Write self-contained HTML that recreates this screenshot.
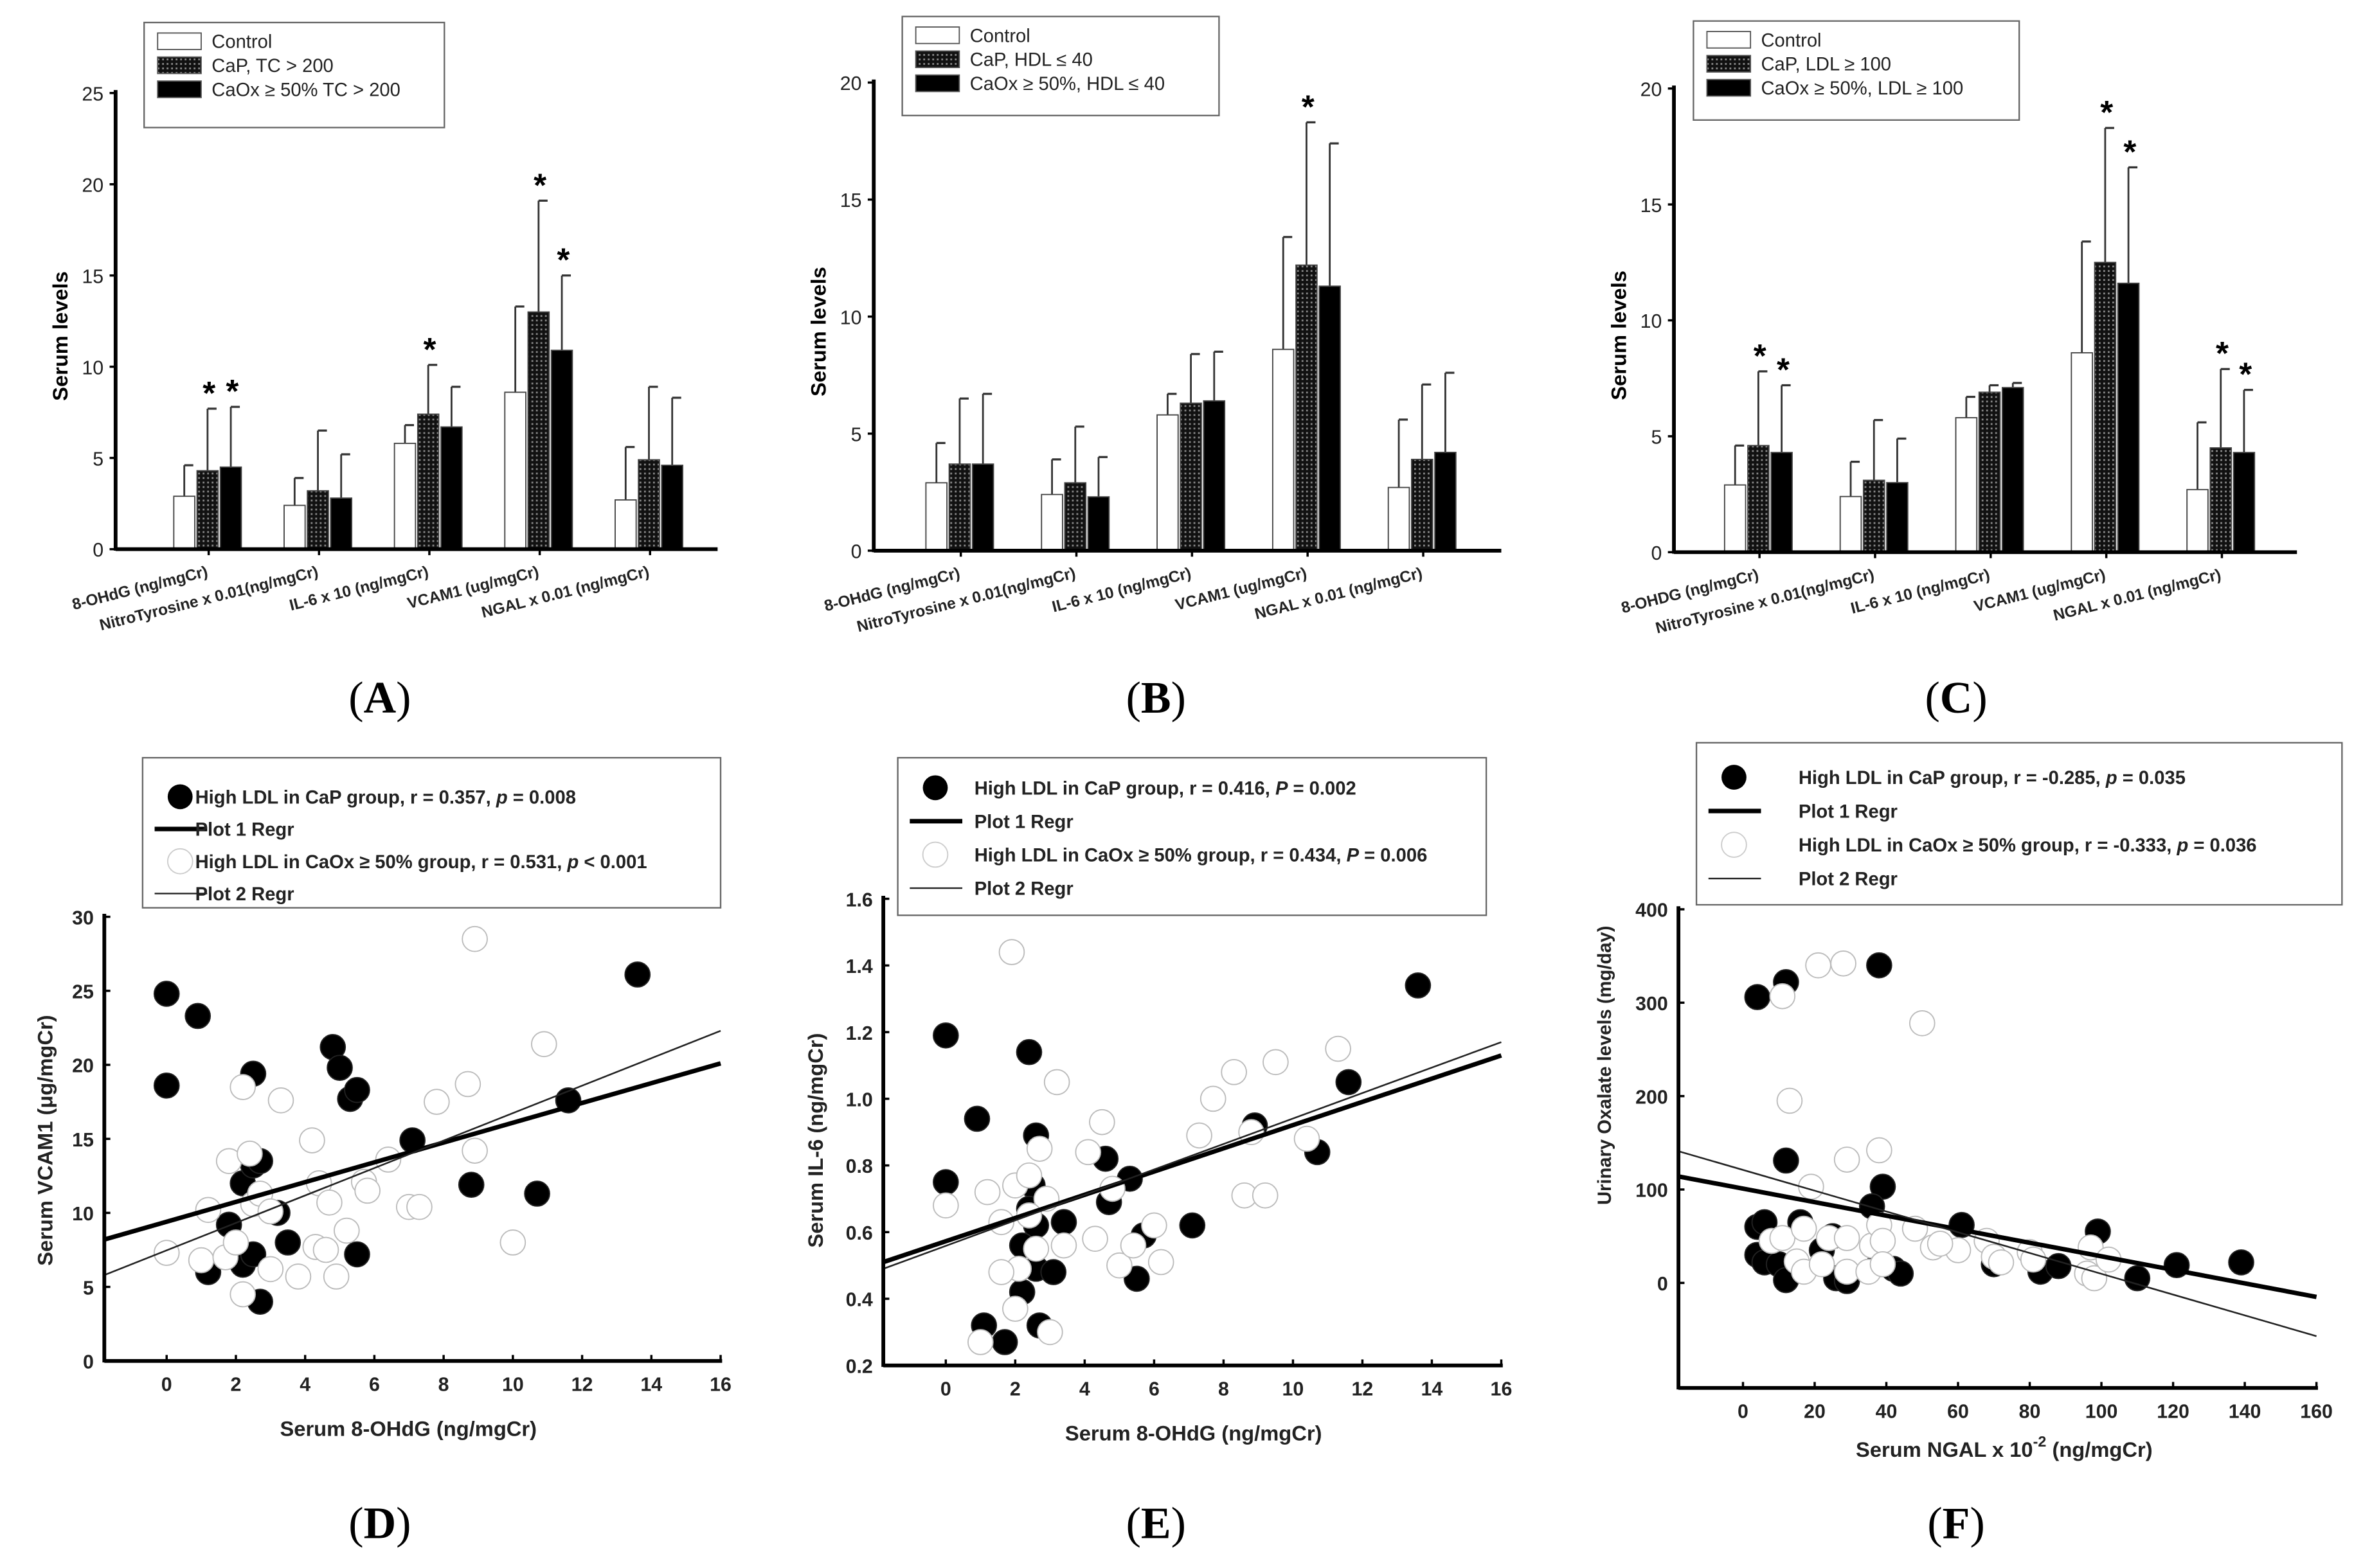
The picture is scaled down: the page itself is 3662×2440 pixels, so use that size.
<!DOCTYPE html>
<html><head><meta charset="utf-8"><style>
html,body{margin:0;padding:0;background:#fff;}
svg{display:block;}
text{font-family:"Liberation Sans",sans-serif;}
text.serif{font-family:"Liberation Serif",serif;}
</style></head><body>
<svg id="fig" width="3662" height="2440" viewBox="0 0 1568 1045" preserveAspectRatio="none" xmlns="http://www.w3.org/2000/svg">
<defs>
<pattern id="dots" width="3" height="3" patternUnits="userSpaceOnUse">
<rect width="3" height="3" fill="#111"/><rect x="0" y="0" width="1.2" height="1.2" fill="#888"/>
</pattern>
</defs>
</svg>
<script>
// ---------- DATA ----------
const barCategories = ["8-OHdG (ng/mgCr)","NitroTyrosine x 0.01(ng/mgCr)","IL-6 x 10 (ng/mgCr)","VCAM1 (ug/mgCr)","NGAL x 0.01 (ng/mgCr)"];
const barCategoriesC = ["8-OHDG (ng/mgCr)","NitroTyrosine x 0.01(ng/mgCr)","IL-6 x 10 (ng/mgCr)","VCAM1 (ug/mgCr)","NGAL x 0.01 (ng/mgCr)"];
const aControl = [2.9,2.4,5.8,8.6,2.7];
const aControlErr = [4.6,3.9,6.8,13.3,5.6];
const aCaP = [4.3,3.2,7.4,13.0,4.9];
const aCaPErr = [7.7,6.5,10.1,19.1,8.9];
const aCaOx = [4.5,2.8,6.7,10.9,4.6];
const aCaOxErr = [7.8,5.2,8.9,15.0,8.3];
const aStarsCaP = [1,0,1,1,0];
const aStarsCaOx = [1,0,0,1,0];
const aTicks = [0,5,10,15,20,25];

const bControl = [2.9,2.4,5.8,8.6,2.7];
const bControlErr = [4.6,3.9,6.7,13.4,5.6];
const bCaP = [3.7,2.9,6.3,12.2,3.9];
const bCaPErr = [6.5,5.3,8.4,18.3,7.1];
const bCaOx = [3.7,2.3,6.4,11.3,4.2];
const bCaOxErr = [6.7,4.0,8.5,17.4,7.6];
const bStarsCaP = [0,0,0,1,0];
const bStarsCaOx = [0,0,0,0,0];
const bTicks = [0,5,10,15,20];

const cControl = [2.9,2.4,5.8,8.6,2.7];
const cControlErr = [4.6,3.9,6.7,13.4,5.6];
const cCaP = [4.6,3.1,6.9,12.5,4.5];
const cCaPErr = [7.8,5.7,7.2,18.3,7.9];
const cCaOx = [4.3,3.0,7.1,11.6,4.3];
const cCaOxErr = [7.2,4.9,7.3,16.6,7.0];
const cStarsCaP = [1,0,0,1,1];
const cStarsCaOx = [1,0,0,1,1];
const cTicks = [0,5,10,15,20];

const dBlackX = [0,0,0.9,2.5,1.8,2.2,2.5,2.7,1.2,2.2,2.7,2.5,3.2,3.5,4.8,5,5.3,5.5,5.5,7.1,8.8,10.7,11.6,13.6];
const dBlackY = [24.8,18.6,23.3,19.4,9.2,12,13.2,13.5,6,6.5,4,7.2,10,8,21.2,19.8,17.7,18.3,7.2,14.9,11.9,11.3,17.6,26.1];
const dWhiteX = [8.9,0,1.2,1.8,2.2,2.5,3.3,1,1.7,2,2.2,2.4,2.7,3,3.8,4.2,4.4,4.7,4.3,4.9,5.2,5.7,5.8,6.4,7,7.3,7.8,8.7,8.9,10,10.9,3,4.6];
const dWhiteY = [28.5,7.3,10.2,13.5,18.5,10.6,17.6,6.8,7,8,4.5,14,11.3,10.1,5.7,14.9,12,10.7,7.7,5.7,8.8,12.1,11.5,13.6,10.4,10.4,17.5,18.7,14.2,8,21.4,6.2,7.5];
const dLine1 = [8.2,20.1];
const dLine2 = [5.8,22.3];
const dXTicks = [0,2,4,6,8,10,12,14,16];
const dYTicks = [0,5,10,15,20,25,30];

const eBlackX = [0,0,0.9,2.4,2.6,2.5,2.4,2.6,2.2,1.7,1.1,2.2,2.6,3.1,2.7,3.4,4.6,4.7,5.3,5.5,5.7,7.1,8.9,10.7,11.6,13.6];
const eBlackY = [1.19,0.75,0.94,1.14,0.89,0.74,0.67,0.62,0.56,0.27,0.32,0.42,0.49,0.48,0.32,0.63,0.82,0.69,0.76,0.46,0.59,0.62,0.92,0.84,1.05,1.34];
const eWhiteX = [1.9,0,1.2,1.6,2,2.4,2.7,3.2,2.1,2.6,2,1,1.6,3,3.4,4.1,4.5,4.3,4.8,5,5.4,6,6.2,7.3,7.7,8.3,8.8,8.6,9.2,9.5,10.4,11.3,2.9,2.4];
const eWhiteY = [1.44,0.68,0.72,0.63,0.74,0.77,0.85,1.05,0.49,0.55,0.37,0.27,0.48,0.3,0.56,0.84,0.93,0.58,0.73,0.5,0.56,0.62,0.51,0.89,1.0,1.08,0.9,0.71,0.71,1.11,0.88,1.15,0.7,0.65];
const eLine1 = [0.51,1.13];
const eLine2 = [0.49,1.17];
const eXTicks = [0,2,4,6,8,10,12,14,16];
const eYTicks = [0.2,0.4,0.6,0.8,1.0,1.2,1.4,1.6];

const fBlackX = [4,12,38,12,39,36,4,6,16,4,6,10,12,22,25,26,29,38,42,44,61,99,83,88,110,121,139,70];
const fBlackY = [306,322,340,131,103,82,60,65,65,30,22,20,3,35,50,5,2,20,15,10,62,55,12,18,5,19,22,20];
const fWhiteX = [11,21,28,50,13,29,38,19,8,11,17,15,17,24,22,29,29,35,36,38,39,39,48,53,60,68,70,72,80,81,97,96,98,102,55];
const fWhiteY = [307,340,342,278,195,132,142,103,45,48,58,23,12,48,20,48,12,12,40,62,45,20,58,38,35,45,28,22,33,25,38,10,5,25,42];
const fLine1 = [114,-15];
const fLine2 = [141,-57];
const fXTicks = [0,20,40,60,80,100,120,140,160];
const fYTicks = [0,100,200,300,400];

// ---------- DRAW ----------
const svg = document.getElementById('fig');
const NS = 'http://www.w3.org/2000/svg';
function mk(tag, attrs, parent){
  const e = document.createElementNS(NS, tag);
  for (const k in attrs) e.setAttribute(k, attrs[k]);
  (parent||svg).appendChild(e);
  return e;
}
function txt(s, attrs, parent){ const t = mk('text', attrs, parent); t.textContent = s; return t; }

function barChart(id, o){
  const g = mk('g', {});
  
  
  const ys = v => o.y0 - (v / o.ymax) * (o.y0 - o.yTop);
  const series = [[o.ctrl,o.ctrlErr,'#fff',null],[o.cap,o.capErr,'url(#dots)',o.starsCap],[o.caox,o.caoxErr,'#000',o.starsCaox]];
  const names = ['control','cap','caox'];
  const bw = 14;
  o.cats.forEach((c, i) => {
    const cx = o.x0 + o.g0 + i * o.gstep;
    series.forEach((s, j) => {
      const x = cx + (j - 1.5) * (bw + 1.5);
      const eb = mk('line', {x1:x+bw/2, x2:x+bw/2, y1:ys(s[0][i]), y2:ys(s[1][i]), stroke:'#333','stroke-width':1.2}, g);
      
      
      mk('line', {x1:x+bw/2, x2:x+bw/2+6, y1:ys(s[1][i]), y2:ys(s[1][i]), stroke:'#333','stroke-width':1.4}, g);
      const r = mk('rect', {x:x, y:ys(s[0][i]), width:bw, height:ys(0)-ys(s[0][i]), fill:s[2], stroke:'#444','stroke-width':0.8}, g);
      
      
      if (s[3] && s[3][i]) {
        const st = txt('*', {x:x+bw/2+1, y:ys(s[1][i])-3, 'font-size':22, 'font-weight':'bold', 'text-anchor':'middle'}, g);
        
        
      }
    });
    mk('line', {x1:cx, x2:cx, y1:o.y0, y2:o.y0+4, stroke:'#000','stroke-width':1.5}, g);
    const lab = txt(c, {x:cx, y:o.y0+18, 'font-size':10.5, 'font-weight':'bold', 'text-anchor':'end', fill:'#222', transform:'rotate(-14 ' + cx + ' ' + (o.y0+18) + ')'}, g);
    
    
  });
  const ya = mk('line', {x1:o.x0, x2:o.x0, y1:o.yTop-2, y2:o.y0+1, stroke:'#000','stroke-width':2.5}, g);
  
  
  const xa = mk('line', {x1:o.x0, x2:o.xEnd, y1:o.y0, y2:o.y0, stroke:'#000','stroke-width':2.5}, g);
  
  
  o.ticks.forEach(t => {
    mk('line', {x1:o.x0-4, x2:o.x0, y1:ys(t), y2:ys(t), stroke:'#000','stroke-width':1.5}, g);
    const tl = txt(String(t), {x:o.x0-8, y:ys(t)+5, 'font-size':13, 'text-anchor':'end', fill:'#222'}, g);
    
    
  });
  const yt = txt('Serum levels', {x:0, y:0, 'font-size':14, 'font-weight':'bold', 'text-anchor':'middle', transform:'translate(' + (o.x0-32) + ',' + ((o.y0+o.yTop)/2+10) + ') rotate(-90)'}, g);
  
  
  const L = o.leg;
  const lg = mk('g', {}, g);
  
  
  mk('rect', {x:L[0], y:L[1], width:L[2], height:L[3], fill:'#fff', stroke:'#666','stroke-width':1}, lg);
  o.legText.forEach((s, j) => {
    const yy = L[1] + 14 + j * 16;
    mk('rect', {x:L[0]+9, y:yy-7, width:29, height:11, fill:series[j][2], stroke:'#555','stroke-width':0.8}, lg);
    const le = txt(s, {x:L[0]+45, y:yy+3, 'font-size':12.5, fill:'#222'}, lg);
    
    
  });
}

barChart('a', {x0:77, xEnd:478, y0:366, yTop:62, ymax:25, g0:62, gstep:73.5, cats:barCategories,
  ctrl:aControl, ctrlErr:aControlErr, cap:aCaP, capErr:aCaPErr, caox:aCaOx, caoxErr:aCaOxErr,
  starsCap:aStarsCaP, starsCaox:aStarsCaOx, ticks:aTicks, leg:[96,15,200,70],
  legText:['Control','CaP, TC > 200','CaOx \u2265 50% TC > 200']});
barChart('b', {x0:582, xEnd:1000, y0:367, yTop:55, ymax:20, g0:58, gstep:77, cats:barCategories,
  ctrl:bControl, ctrlErr:bControlErr, cap:bCaP, capErr:bCaPErr, caox:bCaOx, caoxErr:bCaOxErr,
  starsCap:bStarsCaP, starsCaox:bStarsCaOx, ticks:bTicks, leg:[601,11,211,66],
  legText:['Control','CaP, HDL \u2264 40','CaOx \u2265 50%, HDL \u2264 40']});
barChart('c', {x0:1115, xEnd:1530, y0:368, yTop:59, ymax:20, g0:57, gstep:77, cats:barCategoriesC,
  ctrl:cControl, ctrlErr:cControlErr, cap:cCaP, capErr:cCaPErr, caox:cCaOx, caoxErr:cCaOxErr,
  starsCap:cStarsCaP, starsCaox:cStarsCaOx, ticks:cTicks, leg:[1128,14,217,66],
  legText:['Control','CaP, LDL \u2265 100','CaOx \u2265 50%, LDL \u2265 100']});

function scatter(id, o){
  const g = mk('g', {});
  
  
  const xs = v => o.px0 + (v - o.xmin) / (o.xmax - o.xmin) * (o.px1 - o.px0);
  const ys = v => o.py0 - (v - o.ymin) / (o.ymax - o.ymin) * (o.py0 - o.py1);
  const lx0 = o.axisXmin;
  o.bx.forEach((v, i) => {
    const c = mk('circle', {cx:xs(v), cy:ys(o.by[i]), r:8.3, fill:'#000', stroke:'#222','stroke-width':0.8}, g);
    
    
  });
  o.wx.forEach((v, i) => {
    const c = mk('circle', {cx:xs(v), cy:ys(o.wy[i]), r:8.3, fill:'#fff', stroke:'#bbb','stroke-width':0.8}, g);
    
    
  });
  const r1 = mk('line', {x1:xs(lx0), y1:ys(o.l1[0]), x2:xs(o.xmax), y2:ys(o.l1[1]), stroke:'#000','stroke-width':3}, g);
  
  
  const r2 = mk('line', {x1:xs(lx0), y1:ys(o.l2[0]), x2:xs(o.xmax), y2:ys(o.l2[1]), stroke:'#222','stroke-width':1.1}, g);
  
  
  const ax0 = xs(lx0), ay0 = o.axisBottom;
  const ya = mk('line', {x1:ax0, x2:ax0, y1:o.py1-2, y2:ay0+1, stroke:'#000','stroke-width':2.5}, g);
  
  
  const xa = mk('line', {x1:ax0, x2:xs(o.xmax)+1, y1:ay0, y2:ay0, stroke:'#000','stroke-width':2.5}, g);
  
  
  o.xt.forEach(t => {
    mk('line', {x1:xs(t), x2:xs(t), y1:ay0, y2:ay0-4, stroke:'#000','stroke-width':1.5}, g);
    const tl = txt(String(t), {x:xs(t), y:ay0+20, 'font-size':13, 'font-weight':'bold', 'text-anchor':'middle', fill:'#222'}, g);
    
    
  });
  o.yt.forEach(t => {
    mk('line', {x1:ax0, x2:ax0+4, y1:ys(t), y2:ys(t), stroke:'#000','stroke-width':1.5}, g);
    const tl = txt(o.yfmt(t), {x:ax0-7, y:ys(t)+5, 'font-size':13, 'font-weight':'bold', 'text-anchor':'end', fill:'#222'}, g);
    
    
  });
  const xt = txt('', {x:o.xTitle[0], y:o.xTitle[1], 'font-size':14, 'font-weight':'bold', 'text-anchor':'middle', fill:'#222'}, g);
  xt.innerHTML = o.xTitleHtml;
  
  
  const yt = txt(o.yTitle, {x:0, y:0, 'font-size':o.yTitleSize||14, 'font-weight':'bold', 'text-anchor':'middle', fill:'#222', transform:'translate(' + o.yTitlePos[0] + ',' + o.yTitlePos[1] + ') rotate(-90)'}, g);
  
  
  const L = o.leg;
  const lg = mk('g', {}, g);
  
  
  mk('rect', {x:L[0], y:L[1], width:L[2], height:L[3], fill:'#fff', stroke:'#666','stroke-width':1}, lg);
  o.legRows.forEach((s, j) => {
    const yy = L[1] + o.legStart + j * o.legStep;
    if (j === 0) mk('circle', {cx:L[0]+25, cy:yy, r:8.3, fill:'#000'}, lg);
    if (j === 2) mk('circle', {cx:L[0]+25, cy:yy, r:8.3, fill:'#fff', stroke:'#ccc','stroke-width':0.8}, lg);
    if (j === 1) mk('line', {x1:L[0]+8, x2:L[0]+43, y1:yy, y2:yy, stroke:'#000','stroke-width':3}, lg);
    if (j === 3) mk('line', {x1:L[0]+8, x2:L[0]+43, y1:yy, y2:yy, stroke:'#222','stroke-width':1}, lg);
    const le = txt('', {x:L[0]+o.legTx, y:yy+4.5, 'font-size':12.5, 'font-weight':'bold', fill:'#222'}, lg);
    le.innerHTML = s;
    
    
  });
}

scatter('d', {px0:111, px1:480, xmin:0, xmax:16, axisXmin:-1.8, py0:907, py1:611, ymin:0, ymax:30, axisBottom:907,
  bx:dBlackX, by:dBlackY, wx:dWhiteX, wy:dWhiteY, l1:dLine1, l2:dLine2, xt:dXTicks, yt:dYTicks, yfmt:t=>String(t),
  xTitle:[272,957], xTitleHtml:'Serum 8-OHdG (ng/mgCr)', yTitle:'Serum VCAM1 (\u03bcg/mgCr)', yTitlePos:[35,760],
  leg:[95,505,385,100], legTx:35, legStart:26, legStep:21.5,
  legRows:['High LDL in CaP group, r = 0.357, <tspan font-style="italic">p</tspan> = 0.008','Plot 1 Regr','High LDL in CaOx \u2265 50% group, r = 0.531, <tspan font-style="italic">p</tspan> &lt; 0.001','Plot 2 Regr']});
scatter('e', {px0:630, px1:1000, xmin:0, xmax:16, axisXmin:-1.8, py0:910, py1:599, ymin:0.2, ymax:1.6, axisBottom:910,
  bx:eBlackX, by:eBlackY, wx:eWhiteX, wy:eWhiteY, l1:eLine1, l2:eLine2, xt:eXTicks, yt:eYTicks, yfmt:t=>t.toFixed(1),
  xTitle:[795,960], xTitleHtml:'Serum 8-OHdG (ng/mgCr)', yTitle:'Serum IL-6 (ng/mgCr)', yTitlePos:[548,760],
  leg:[598,505,392,105], legTx:51, legStart:20, legStep:22.3,
  legRows:['High LDL in CaP group, r = 0.416, <tspan font-style="italic">P</tspan> = 0.002','Plot 1 Regr','High LDL in CaOx \u2265 50% group, r = 0.434, <tspan font-style="italic">P</tspan> = 0.006','Plot 2 Regr']});
scatter('f', {px0:1161, px1:1543, xmin:0, xmax:160, axisXmin:-18, py0:855, py1:606, ymin:0, ymax:400, axisBottom:925,
  bx:fBlackX, by:fBlackY, wx:fWhiteX, wy:fWhiteY, l1:fLine1, l2:fLine2, xt:fXTicks, yt:fYTicks, yfmt:t=>String(t),
  xTitle:[1335,971], xTitleHtml:'Serum NGAL x 10<tspan dy="-7" font-size="10">-2</tspan><tspan dy="7"> (ng/mgCr)</tspan>', yTitle:'Urinary Oxalate levels (mg/day)', yTitleSize:12.5, yTitlePos:[1073,710],
  leg:[1130,495,430,108], legTx:68, legStart:23, legStep:22.5,
  legRows:['High LDL in CaP group, r = -0.285, <tspan font-style="italic">p</tspan> = 0.035','Plot 1 Regr','High LDL in CaOx \u2265 50% group, r = -0.333, <tspan font-style="italic">p</tspan> = 0.036','Plot 2 Regr']});

[['(A)',253,475],['(B)',770,475],['(C)',1303,475],['(D)',253,1025],['(E)',770,1025],['(F)',1303,1025]].forEach(p => {
  const t = txt('', {x:p[1], y:p[2], 'font-size':30, 'text-anchor':'middle', 'class':'serif'});
  t.innerHTML = '(<tspan font-weight="bold">' + p[0][1] + '</tspan>)';
  
  
});
</script>
</body></html>
